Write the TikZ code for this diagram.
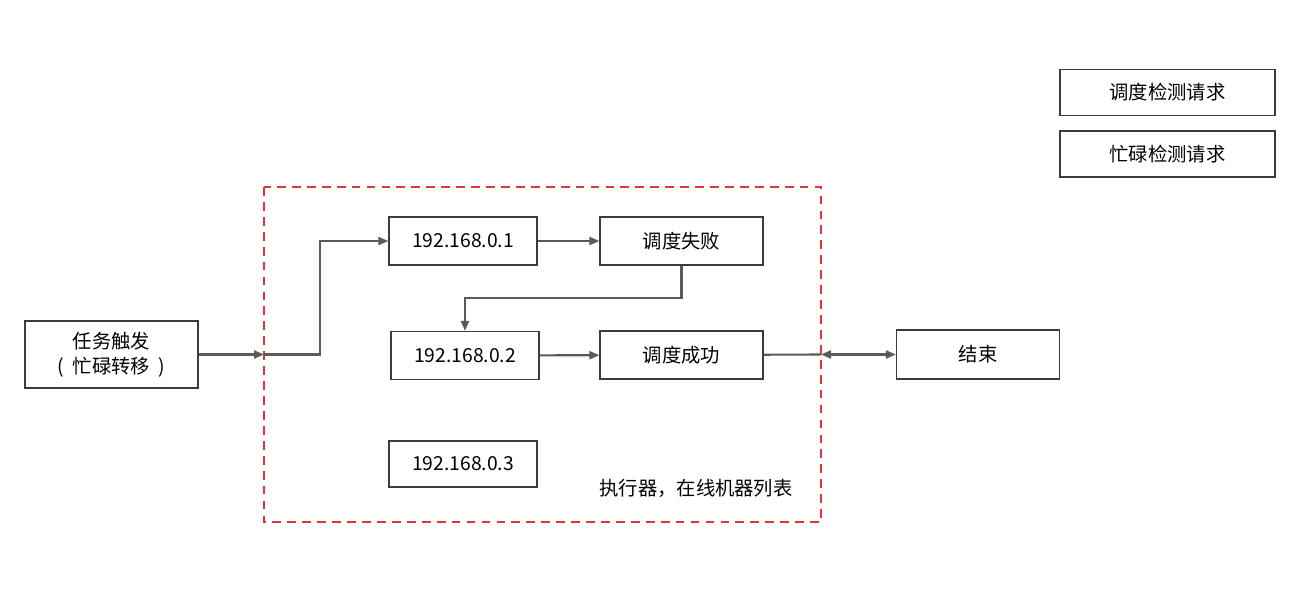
\documentclass[tikz,border=0pt]{standalone}
\usepackage{fontspec}
\setmainfont{Noto Sans CJK SC}
\usepackage{xcolor}
\usetikzlibrary{arrows.meta,positioning,calc}
\definecolor{boxgray}{RGB}{60, 60, 60}
\definecolor{linegray}{RGB}{90, 90, 90}
\definecolor{dashred}{RGB}{226, 52, 52}

\begin{document}
\begin{tikzpicture}[
  x=0.02cm, y=-0.02cm,
  ipbox/.style={rectangle, draw=boxgray, line width=0.7pt, fill=white, minimum width=2.96cm, minimum height=0.96cm, align=center, font=\fontsize{11}{14}\selectfont},
  statebox/.style={ipbox, minimum width=3.26cm},
  reqbox/.style={ipbox, minimum width=4.3cm, minimum height=0.92cm},
  flow/.style={-{Triangle[length=2mm,width=1.6mm]}, line width=1.2pt, color=linegray},
  link/.style={line width=1.2pt, color=linegray},
  group/.style={draw=dashred, line width=1.1pt, dash pattern=on 5pt off 3.5pt}
]
\useasboundingbox (0,0) rectangle (1312,600);

% executor group
\draw[group] (264,187) rectangle (821,522);
\node[font=\fontsize{11}{14}\selectfont] (grouplabel) at (696,488) {执行器，在线机器列表};

\node[ipbox, minimum width=3.46cm, minimum height=1.34cm] (trigger) at (111.5,354.5) {任务触发\\(\hspace{0.45em}忙碌转移\hspace{0.45em})};
\node[ipbox] (ip1) at (463,241) {192.168.0.1};
\node[statebox] (fail) at (681.5,241) {调度失败};
\node[ipbox] (ip2) at (465,355.5) {192.168.0.2};
\node[statebox] (succ) at (681.5,355) {调度成功};
\node[ipbox, minimum height=0.92cm] (ip3) at (463,464) {192.168.0.3};
\node[statebox, minimum height=0.98cm] (finish) at (978,354.5) {结束};

\node[reqbox] (schedreq) at (1167.5,92.5) {调度检测请求};
\node[reqbox] (busyreq) at (1167.5,154) {忙碌检测请求};

\coordinate (entry) at (264,354.5);
\coordinate (exit) at (821,354.5);

\draw[flow] (trigger) -- (entry);
\draw[flow] (entry) -- (320,354.5) |- (ip1);
\draw[flow] (ip1) -- (fail);
\draw[flow] (fail.south) |- (465,298) -- (ip2.north);
\draw[flow] (ip2) -- (succ);
\draw[link] (succ) -- (exit);
\draw[flow, {Triangle[length=2mm,width=1.6mm]}-{Triangle[length=2mm,width=1.6mm]}] (exit) -- (finish);
\end{tikzpicture}
\end{document}
